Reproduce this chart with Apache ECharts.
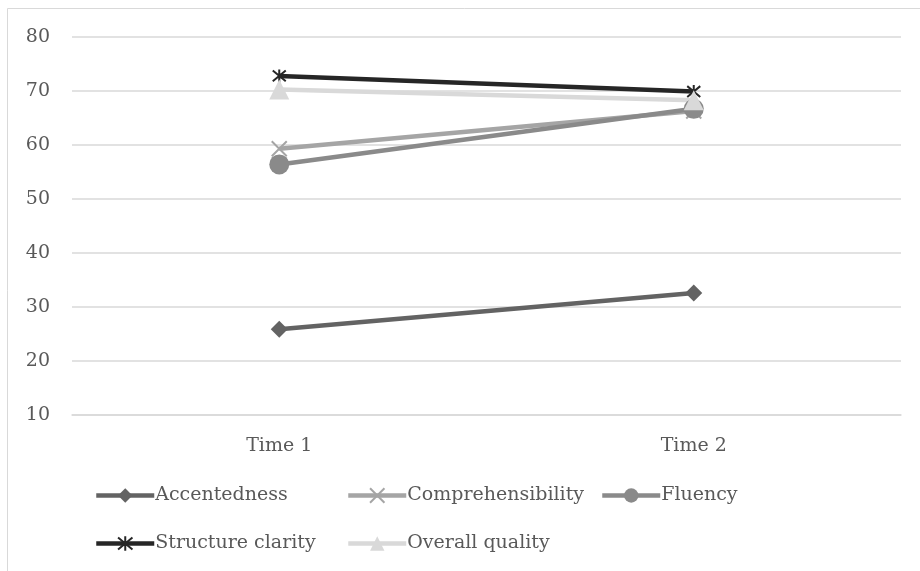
<!DOCTYPE html>
<html>
<head>
<meta charset="utf-8">
<script src="https://cdn.jsdelivr.net/npm/echarts@6/dist/echarts.min.js"></script>
<style>
  html, body { margin: 0; padding: 0; background: #fff; }
  #chart { width: 920px; height: 571px; }
</style>
</head>
<body>
<div id="chart"></div>
<script>
// Ratings at two measurement points
const categories = ['Time 1', 'Time 2'];
const accentedness = [25.9, 32.6];
const comprehensibility = [59.3, 66.3];
const fluency = [56.4, 66.7];
const structureClarity = [72.8, 69.9];
const overallQuality = [70.3, 68.3];

const FONT = 'DejaVu Serif';
const TEXT = '#595959';
const GRID = '#d9d9d9';

// stroke-only marker shapes
const crossPath = 'path://M0,0L10,10M10,0L0,10';
const starPath = 'path://M0,0L10,10M10,0L0,10M5,-1L5,11';

function lineSeries(name, data, color, symbol, size, stroke) {
  return {
    name: name,
    type: 'line',
    data: data,
    symbol: symbol,
    symbolSize: size,
    showSymbol: true,
    lineStyle: { color: color, width: 4.5 },
    itemStyle: stroke
      ? { color: 'rgba(0,0,0,0)', borderColor: color, borderWidth: 2 }
      : { color: color, borderWidth: 0 },
    emphasis: { disabled: true },
    animation: false
  };
}

const series = [
  lineSeries('Accentedness', accentedness, '#636363', 'diamond', 17, false),
  lineSeries('Comprehensibility', comprehensibility, '#a5a5a5', crossPath, 15, true),
  lineSeries('Fluency', fluency, '#8a8a8a', 'circle', 20, false),
  lineSeries('Structure clarity', structureClarity, '#262626', starPath, 13, true),
  lineSeries('Overall quality', overallQuality, '#d9d9d9', 'triangle', 20, false)
];

function legendItem(name, left, top) {
  return {
    data: [name],
    left: left,
    top: top,
    padding: 0,
    itemWidth: 58,
    itemHeight: 18,
    itemGap: 0,
    selectedMode: false,
    lineStyle: { width: 4.5 },
    textStyle: { fontFamily: FONT, fontSize: 19, color: TEXT, padding: [0, 0, 0, -4] }
  };
}

const chart = echarts.init(document.getElementById('chart'), null, { renderer: 'canvas' });
chart.setOption({
  backgroundColor: '#ffffff',
  animation: false,
  graphic: [{
    type: 'rect',
    shape: { x: 7.5, y: 8.5, width: 1000, height: 1000 },
    style: { fill: 'none', stroke: GRID, lineWidth: 1 },
    silent: true
  }],
  grid: { left: 72, right: 19, top: 37, bottom: 156, containLabel: false },
  xAxis: {
    type: 'category',
    data: categories,
    boundaryGap: true,
    axisLine: { show: true, lineStyle: { color: GRID, width: 1.5 } },
    axisTick: { show: false },
    axisLabel: { fontFamily: FONT, fontSize: 19, color: TEXT, margin: 22 }
  },
  yAxis: {
    type: 'value',
    min: 10,
    max: 80,
    interval: 10,
    axisLine: { show: false },
    axisTick: { show: false },
    splitLine: { lineStyle: { color: GRID, width: 1.5 } },
    axisLabel: { fontFamily: FONT, fontSize: 19, color: TEXT, margin: 22 }
  },
  legend: [
    legendItem('Accentedness', 94, 486),
    legendItem('Comprehensibility', 346, 486),
    legendItem('Fluency', 600, 486),
    legendItem('Structure clarity', 94, 534),
    legendItem('Overall quality', 346, 534)
  ],
  series: series
});
</script>
</body>
</html>
